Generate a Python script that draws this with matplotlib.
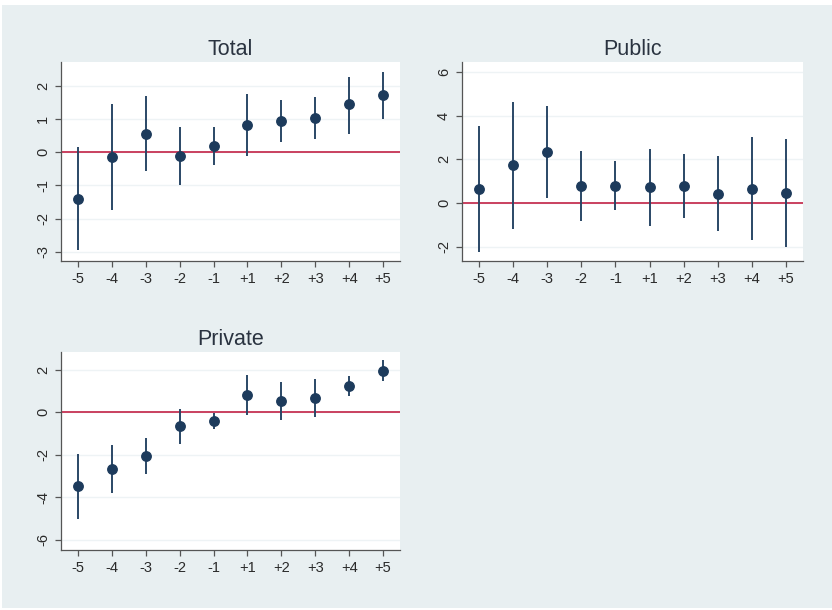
import matplotlib
matplotlib.use("Agg")
import matplotlib.pyplot as plt
from matplotlib.patches import Rectangle

plt.rcParams['font.family'] = ['Liberation Sans', 'DejaVu Sans']

periods = ["-5", "-4", "-3", "-2", "-1", "+1", "+2", "+3", "+4", "+5"]

total_est = [-1.40, -0.15, 0.55, -0.12, 0.19, 0.81, 0.94, 1.04, 1.44, 1.71]
total_lo = [-2.96, -1.74, -0.58, -1.00, -0.40, -0.10, 0.31, 0.41, 0.56, 0.99]
total_hi = [0.17, 1.46, 1.68, 0.77, 0.77, 1.75, 1.57, 1.66, 2.28, 2.42]

public_est = [0.66, 1.73, 2.34, 0.79, 0.79, 0.72, 0.78, 0.43, 0.66, 0.46]
public_lo = [-2.23, -1.19, 0.24, -0.81, -0.34, -1.05, -0.67, -1.30, -1.71, -2.00]
public_hi = [3.54, 4.64, 4.44, 2.38, 1.92, 2.49, 2.26, 2.17, 3.01, 2.92]

private_est = [-3.48, -2.66, -2.05, -0.66, -0.41, 0.80, 0.52, 0.69, 1.23, 1.94]
private_lo = [-5.00, -3.80, -2.88, -1.48, -0.77, -0.14, -0.38, -0.22, 0.77, 1.47]
private_hi = [-1.97, -1.53, -1.23, 0.16, -0.03, 1.73, 1.42, 1.58, 1.72, 2.44]

W, H = 832, 610
fig = plt.figure(figsize=(W / 100, H / 100), dpi=100)
fig.patch.set_facecolor("white")
fig.patches.append(Rectangle((2 / W, 2 / H), 1 - 2 / W, 1 - 7 / H,
                             transform=fig.transFigure, facecolor="#e8eff1",
                             edgecolor="none", zorder=-10))

navy = "#1d3b5c"
bar = "#2a4766"
red = "#c9415f"


def panel(rect, title, est, lo, hi, ylim, yticks):
    ax = fig.add_axes(rect)
    ax.set_facecolor("white")
    x = list(range(len(periods)))
    for yt in yticks:
        ax.axhline(yt, color="#eef3f5", lw=1.0, zorder=0)
    ax.axhline(0, color=red, lw=1.4, zorder=1)
    ax.vlines(x, lo, hi, color=bar, lw=1.4, zorder=2)
    ax.plot(x, est, "o", color=navy, ms=6.8, zorder=3)
    ax.set_xlim(-0.5, 9.5)
    ax.set_ylim(*ylim)
    ax.set_xticks(x)
    ax.set_xticklabels(periods)
    ax.set_yticks(yticks)
    ax.set_yticklabels([f"{v:g}" for v in yticks], rotation=90, va="center")
    for s in ("top", "right"):
        ax.spines[s].set_visible(False)
    for s in ("left", "bottom"):
        ax.spines[s].set_color("#555555")
        ax.spines[s].set_linewidth(0.9)
    ax.tick_params(axis="both", length=4, width=0.9, color="#555555",
                   labelsize=10.5, labelcolor="#2a2a2a", pad=4)
    ax.set_title(title, fontsize=15.5, color="#2a3340", pad=5)
    return ax


panel([61 / W, 349 / H, 339 / W, 199 / H], "Total",
      total_est, total_lo, total_hi, (-3.28, 2.72), [-3, -2, -1, 0, 1, 2])
panel([462 / W, 349 / H, 341 / W, 199 / H], "Public",
      public_est, public_lo, public_hi, (-2.66, 6.47), [-2, 0, 2, 4, 6])
panel([61 / W, 60 / H, 339 / W, 198 / H], "Private",
      private_est, private_lo, private_hi, (-6.47, 2.83), [-6, -4, -2, 0, 2])

fig.savefig("out.png", dpi=100, facecolor=fig.get_facecolor())
